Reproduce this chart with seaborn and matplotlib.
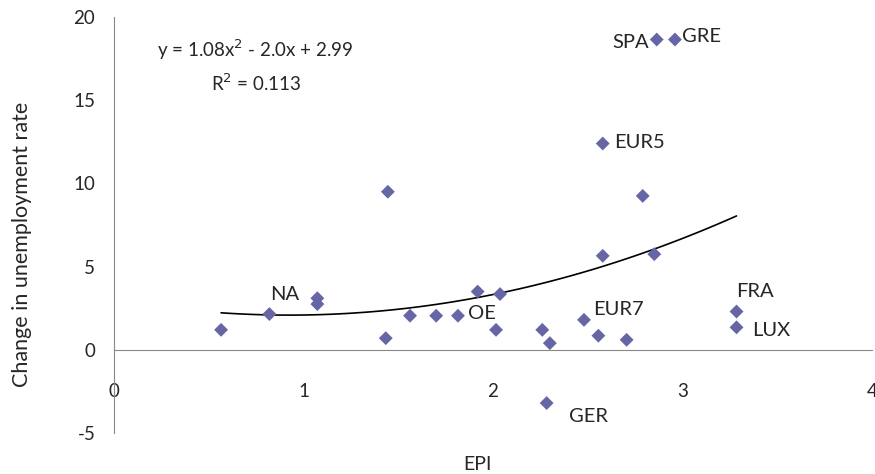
import numpy as np
import matplotlib
matplotlib.use("Agg")
import matplotlib.pyplot as plt
import seaborn as sns
import pandas as pd

# data
epi = [0.565, 0.82, 1.073, 1.073, 1.434, 1.445, 1.562, 1.70, 1.815, 1.919,
       2.016, 2.037, 2.26, 2.283, 2.30, 2.48, 2.556, 2.579, 2.579, 2.705,
       2.79, 2.851, 2.864, 2.96, 3.285, 3.285]
unemp = [1.2, 2.15, 3.1, 2.75, 0.7, 9.5, 2.05, 2.05, 2.05, 3.5,
         1.2, 3.35, 1.2, -3.2, 0.4, 1.8, 0.85, 5.65, 12.4, 0.6,
         9.25, 5.75, 18.65, 18.65, 2.3, 1.35]
labels = ["", "NA", "", "", "", "", "", "", "OE", "",
          "", "", "", "GER", "", "EUR7", "", "", "EUR5", "",
          "", "", "SPA", "GRE", "FRA", "LUX"]

df = pd.DataFrame({"EPI": epi, "unemp": unemp, "label": labels})

sns.set_style("white")
plt.rcParams['font.family'] = ['Lato', 'DejaVu Sans']
plt.rcParams['axes.unicode_minus'] = False

fig = plt.figure(figsize=(8.75, 4.74), dpi=100)
ax = fig.add_axes([0.1303, 0.0865, 0.8663, 0.8775])

sns.regplot(data=df, x="EPI", y="unemp", order=2, ci=None, scatter=False,
            color="black", line_kws={"linewidth": 1.2}, ax=ax)
sns.scatterplot(data=df, x="EPI", y="unemp", marker="D", s=50, color="#6666a6",
                edgecolor="none", ax=ax, zorder=3)

# label offsets in pixels (dx, dy, ha)
offsets = {"NA": (1, 20, "left"), "OE": (10, 2, "left"), "GER": (22, -13, "left"),
           "EUR7": (9, 10, "left"), "EUR5": (11, 1, "left"), "SPA": (-8, -3, "right"),
           "GRE": (7, 3, "left"), "FRA": (0, 20, "left"), "LUX": (16, -3, "left")}
for _, r in df[df.label != ""].iterrows():
    dx, dy, ha = offsets[r.label]
    ax.annotate(r.label, (r.EPI, r.unemp), xytext=(dx, dy), textcoords="offset pixels",
                ha=ha, va="center", fontsize=14.5)

ax.text(0.227, 18.05, "y = 1.08x$^2$ - 2.0x + 2.99", fontsize=13.5, va="center")
ax.text(0.51, 16.0, "R$^2$ = 0.113", fontsize=13.5, va="center")

ax.set_xlim(0, 4)
ax.set_ylim(-5, 20)
ax.set_xticks([0, 1, 2, 3, 4])
ax.set_yticks([-5, 0, 5, 10, 15, 20])
ax.spines["bottom"].set_position(("data", 0))
ax.spines["top"].set_visible(False)
ax.spines["right"].set_visible(False)
for s in ["left", "bottom"]:
    ax.spines[s].set_color("#888888")
ax.tick_params(axis="both", direction="out", length=5, color="#888888",
               labelsize=13.5, width=1)
ax.tick_params(axis="x", pad=19)
ax.tick_params(axis="y", pad=8.5)
ax.set_xlabel("")
ax.set_ylabel("")
fig.text(477 / 875, 1 - 465 / 474, "EPI", ha="center", va="center", fontsize=14)
fig.text(22 / 875, 1 - 244 / 474, "Change in unemployment rate", ha="center",
         va="center", rotation=90, fontsize=15.5)

fig.savefig("out.png", dpi=100)
